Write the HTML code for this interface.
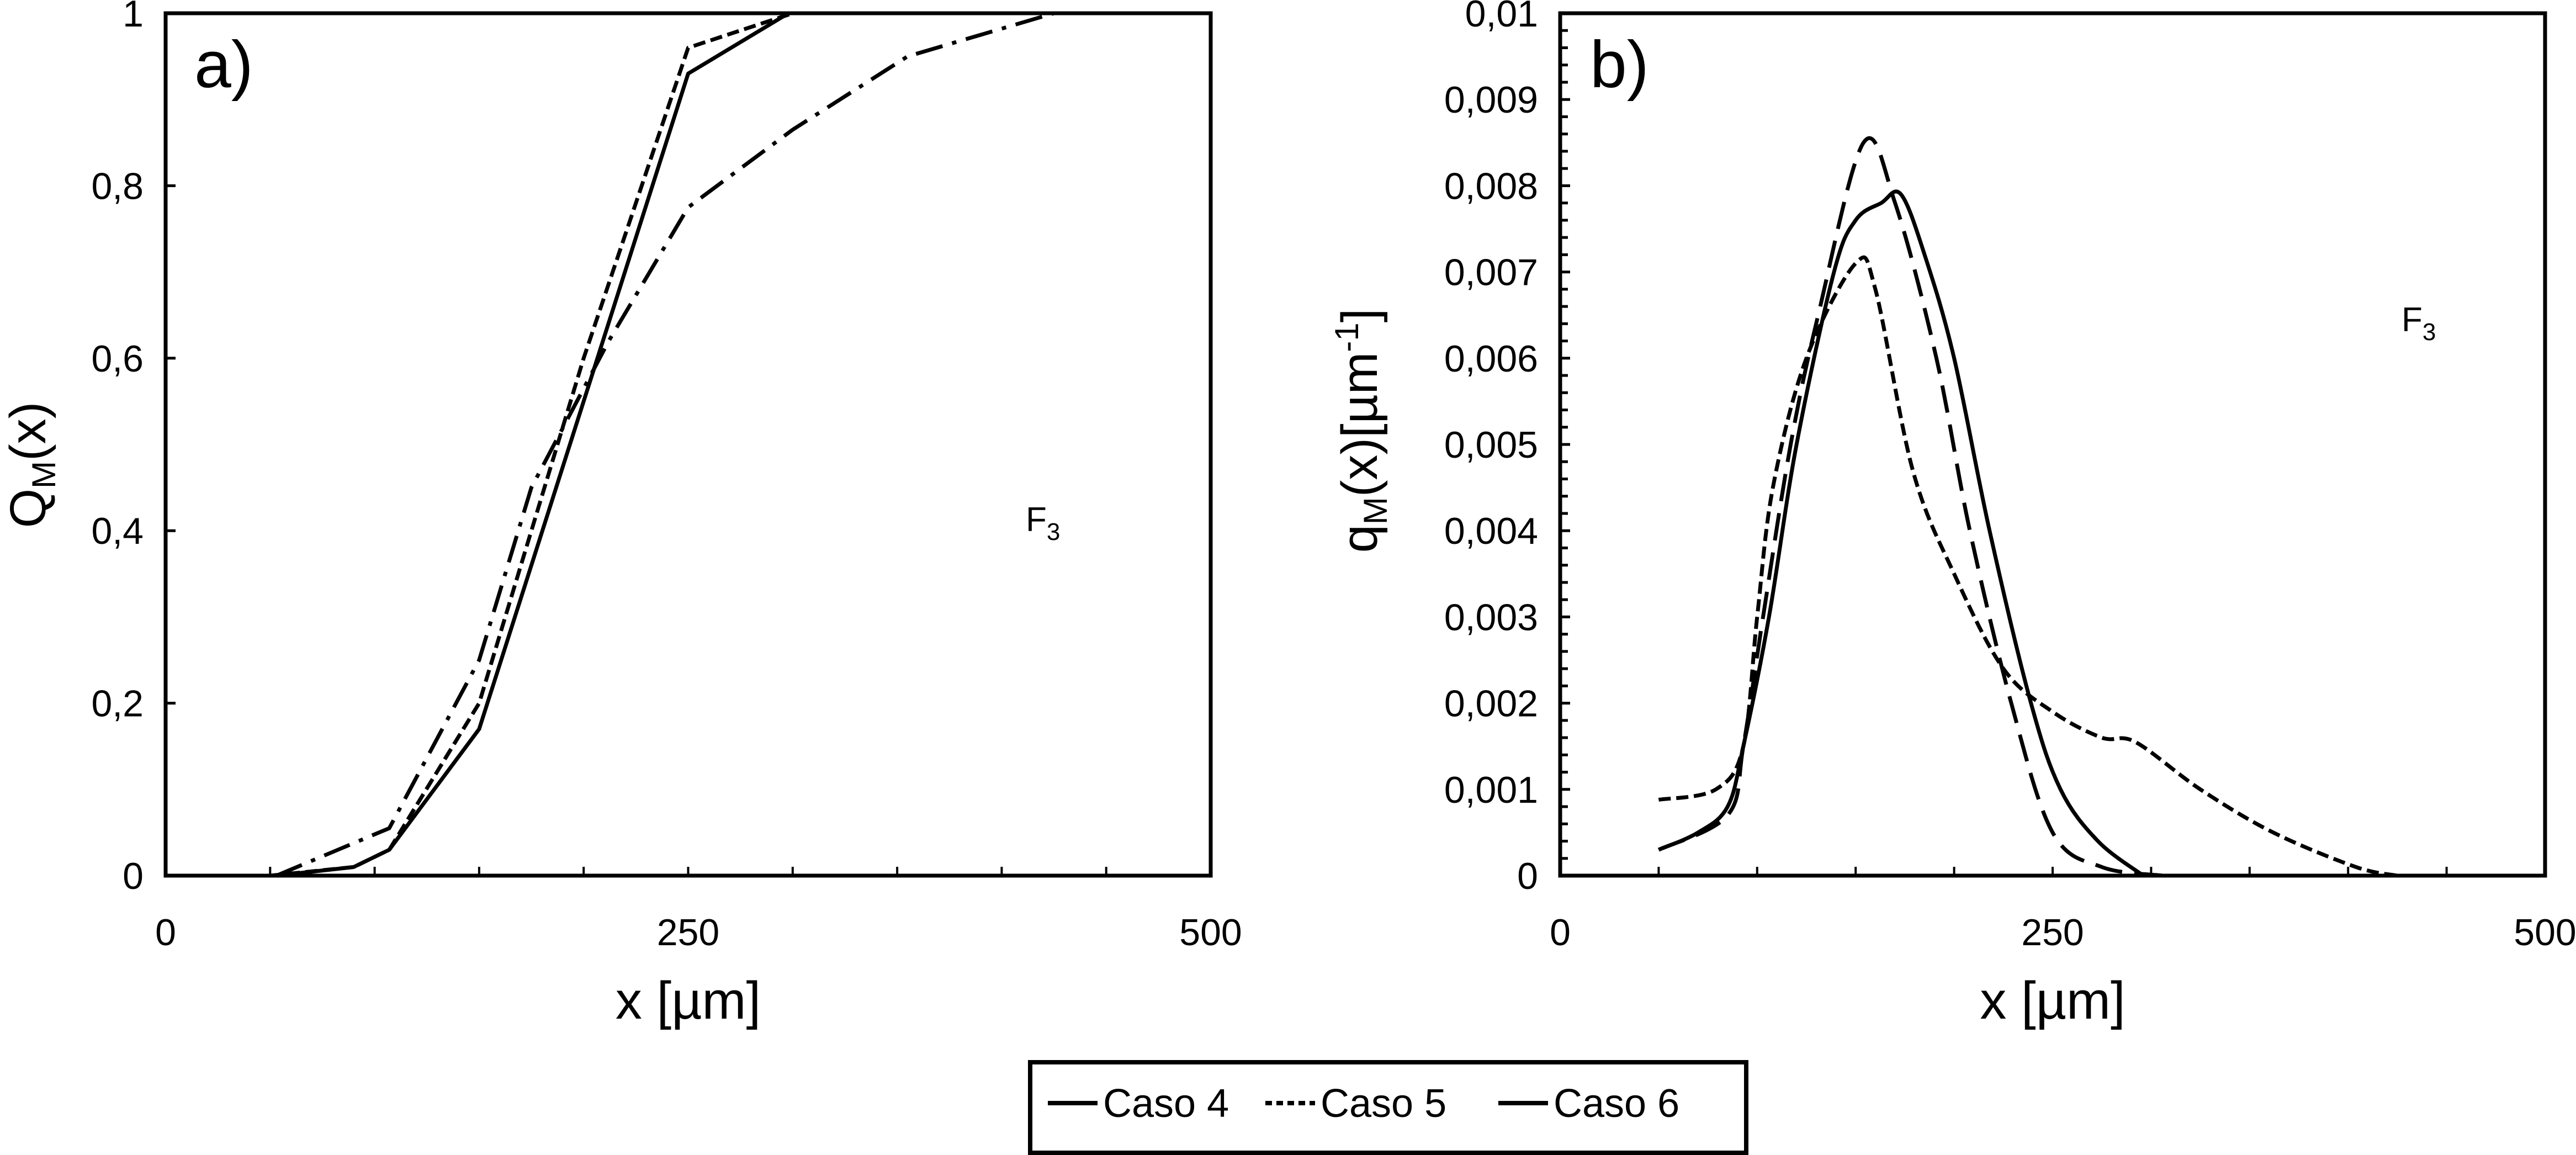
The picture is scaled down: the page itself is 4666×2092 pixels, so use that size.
<!DOCTYPE html>
<html><head><meta charset="utf-8"><style>
html,body{margin:0;padding:0;background:#fff;overflow:hidden;width:4666px;height:2092px}
svg{display:block}
text{font-family:"Liberation Sans",Arial,sans-serif;fill:#000}
</style></head><body>
<svg id="fig" width="4666" height="2092" viewBox="0 0 4666 2092" xmlns="http://www.w3.org/2000/svg">
<g id="pa"></g>
<g id="pb"></g>
<g id="legend"></g>
</svg>
<script>
// Panel a data: Q_M(x)
const aX4=[53,90,107,150,250,298,425];
const aY4=[0,0.01,0.03,0.17,0.93,1,1];
const aX5=[50,90,107,150,200,250,300,355];
const aY5=[0,0.01,0.03,0.2,0.6,0.96,1,1];
const aX6=[53,107,150,175,212,250,300,355,425];
const aY6=[0,0.055,0.25,0.45,0.62,0.775,0.865,0.95,1];
// Panel b data: q_M(x)
const bX4=[50,70,85,93,106,120,139,150,163,173,185,200,218,239,254,273,296];
const bY4=[0.0003,0.0005,0.0008,0.0015,0.003,0.005,0.007,0.0076,0.0078,0.0079,0.0072,0.006,0.004,0.002,0.001,0.0004,0];
const bX5=[50,79,93,100,108,125,150,160,179,200,225,250,275,292,325,362,404,425];
const bY5=[0.00088,0.001,0.0015,0.003,0.0045,0.006,0.0071,0.0068,0.0047,0.0035,0.0024,0.0019,0.0016,0.00155,0.001,0.0005,0.0001,0];
const bX6=[50,85,93,103,117,131,154,170,191,208,229,250,275,306];
const bY6=[0.0003,0.0007,0.0015,0.003,0.005,0.0065,0.0085,0.0078,0.006,0.004,0.002,0.0005,0.0001,0];
const aYTicks=["0","0,2","0,4","0,6","0,8","1"];
const bYTicks=["0","0,001","0,002","0,003","0,004","0,005","0,006","0,007","0,008","0,009","0,01"];
const xTicks=["0","250","500"];

const NS="http://www.w3.org/2000/svg";
function mk(parent,tag,attrs){const e=document.createElementNS(NS,tag);for(const k in attrs)e.setAttribute(k,attrs[k]);parent.appendChild(e);return e;}

function panel(g,L,R,T,B,ymax,yticks,minorY,label,ytitle,ytSuffix,f3x,f3y,labX,titleX,titleY){
  const sx=v=>L+(v/500)*(R-L);
  const sy=v=>B-(v/ymax)*(B-T);
  const fr=mk(g,'rect',{x:L,y:T,width:R-L,height:B-T,fill:'none',stroke:'#000','stroke-width':7});
  
  
  for(let v=50;v<500;v+=50){
    const t=mk(g,'line',{x1:sx(v),x2:sx(v),y1:B,y2:B-16,stroke:'#000','stroke-width':4});
    
    
  }
  const n=yticks.length-1;
  for(let i=0;i<=n;i++){
    const y=B-(i/n)*(B-T);
    const t=mk(g,'line',{x1:L,x2:L+18,y1:y,y2:y,stroke:'#000','stroke-width':5});
    
    
    const tx=mk(g,'text',{x:L-40,y:y+24,'font-size':68,'text-anchor':'end'});
    tx.textContent=yticks[i];
    
    
    if(minorY && i<n){
      for(let k=1;k<5;k++){
        const yy=y-(k/5)*(B-T)/n;
        const m=mk(g,'line',{x1:L,x2:L+14,y1:yy,y2:yy,stroke:'#000','stroke-width':5});
        
        
      }
    }
  }
  xTicks.forEach((s,i)=>{
    const tx=mk(g,'text',{x:sx(i*250),y:1712,'font-size':68,'text-anchor':'middle'});
    tx.textContent=s;
    
    
  });
  const xt=mk(g,'text',{x:(L+R)/2,y:1845,'font-size':96,'text-anchor':'middle'});
  xt.textContent='x [µm]';
  
  
  const yt=mk(g,'text',{x:0,y:0,'font-size':92,'text-anchor':'middle',transform:`translate(${titleX},${titleY}) rotate(-90)`});
  
  
  yt.innerHTML=ytitle+'<tspan font-size="60" dy="18">M</tspan><tspan dy="-18">(x)</tspan>'+ytSuffix;
  const pl=mk(g,'text',{x:labX,y:158,'font-size':120});
  pl.textContent=label;
  
  
  const f=mk(g,'text',{x:f3x,y:f3y,'font-size':62});
  f.innerHTML='F<tspan font-size="44" dy="16">3</tspan>';
  
  
  return {sx,sy};
}
function linePath(xs,ys,sx,sy){return xs.map((x,i)=>(i?'L':'M')+sx(x).toFixed(1)+' '+sy(ys[i]).toFixed(1)).join(' ');}
function smoothPath(xs,ys,sx,sy){
  const P=xs.map((x,i)=>[sx(x),sy(ys[i])]);
  let d='M'+P[0][0]+' '+P[0][1];
  for(let i=0;i<P.length-1;i++){
    const p0=P[Math.max(0,i-1)],p1=P[i],p2=P[i+1],p3=P[Math.min(P.length-1,i+2)];
    const c1=[p1[0]+(p2[0]-p0[0])/6,p1[1]+(p2[1]-p0[1])/6];
    const c2=[p2[0]-(p3[0]-p1[0])/6,p2[1]-(p3[1]-p1[1])/6];
    d+=` C${c1[0].toFixed(1)} ${c1[1].toFixed(1)} ${c2[0].toFixed(1)} ${c2[1].toFixed(1)} ${p2[0].toFixed(1)} ${p2[1].toFixed(1)}`;
  }
  return d;
}
const pa=document.getElementById('pa'), pb=document.getElementById('pb');
const A=panel(pa,300,2193,24,1586,1,aYTicks,false,'a)','Q','',1858,962,352,82,842);
const Bp=panel(pb,2826,4610,24,1586,0.01,bYTicks,true,'b)','q','[µm<tspan font-size="60" dy="-34">-1</tspan><tspan dy="34">]</tspan>',4350,600,2880,2494,780);

function series(g,d,dash,name){
  const p=mk(g,'path',{d:d,fill:'none',stroke:'#000','stroke-width':7,'stroke-dasharray':dash,'stroke-linejoin':'round'});
  
  
}
series(pa,linePath(aX4,aY4,A.sx,A.sy),'none','caso-4-cumulative');
series(pa,linePath(aX5,aY5,A.sx,A.sy),'22 10','caso-5-cumulative');
series(pa,linePath(aX6,aY6,A.sx,A.sy),'50 18 8 18','caso-6-cumulative');
series(pb,smoothPath(bX4,bY4,Bp.sx,Bp.sy),'none','caso-4-density');
series(pb,smoothPath(bX5,bY5,Bp.sx,Bp.sy),'22 10','caso-5-density');
series(pb,smoothPath(bX6,bY6,Bp.sx,Bp.sy),'50 22','caso-6-density');

const lg=document.getElementById('legend');
const box=mk(lg,'rect',{x:1866,y:1924,width:1297,height:164,fill:'#fff',stroke:'#000','stroke-width':8});


const entries=[[1898,'none','Caso 4'],[2292,'12 8','Caso 5'],[2714,'none','Caso 6']];
entries.forEach(e=>{
  const l=mk(lg,'line',{x1:e[0],x2:e[0]+90,y1:1998,y2:1998,stroke:'#000','stroke-width':8,'stroke-dasharray':e[1]});
  
  
  const t=mk(lg,'text',{x:e[0]+100,y:2023,'font-size':72});
  t.textContent=e[2];
  
  
});
</script>
</body></html>
